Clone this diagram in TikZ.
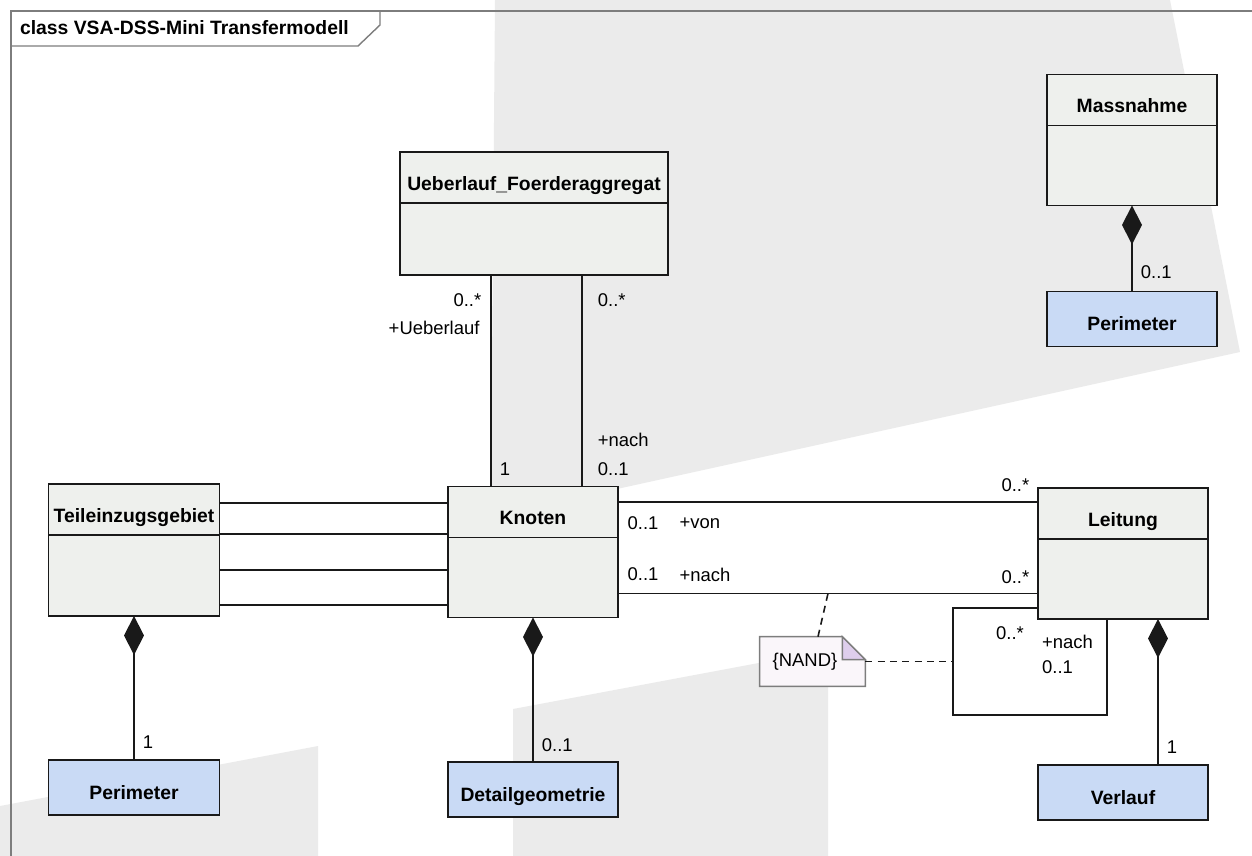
\documentclass[tikz,border=0pt]{standalone}
\usepackage{fontspec}
\setmainfont{Liberation Sans}
\usetikzlibrary{positioning,arrows.meta,backgrounds}

\definecolor{clsfill}{RGB}{238,240,237}
\definecolor{typefill}{RGB}{201,218,245}
\definecolor{bgshade}{RGB}{235,235,235}
\definecolor{notefill}{RGB}{250,246,250}
\definecolor{notefold}{RGB}{222,206,236}
\definecolor{umlline}{RGB}{25,25,25}
\definecolor{framegray}{RGB}{125,125,125}

\tikzset{
  cls/.style={draw=umlline, fill=clsfill, line width=1.1pt, outer sep=0pt, inner xsep=1pt, inner ysep=0pt,
    minimum width=3.4cm, text height=0.76cm, text depth=0.26cm, font=\fontsize{11}{13}\selectfont\bfseries},
  clsbody/.style={draw=umlline, fill=clsfill, line width=1.1pt, outer sep=0pt, minimum width=3.4cm, minimum height=1.6cm},
  dtype/.style={cls, fill=typefill, text height=0.78cm, text depth=0.32cm},
  lbl/.style={inner sep=1pt, font=\fontsize{10.5}{12}\selectfont},
  assoc/.style={draw=umlline, line width=1.1pt},
  comp/.style={assoc, arrows={{Diamond[length=0.78cm,width=0.4cm]}-}},
  notebox/.style={minimum width=2.1cm, minimum height=0.98cm, inner sep=0pt, font=\fontsize{10.5}{12}\selectfont},
  nandline/.style={draw=umlline, line width=0.9pt, dash pattern=on 4pt off 3pt},
  frame/.style={draw=framegray, line width=0.8pt}
}

\begin{document}
\begin{tikzpicture}[x=0.02cm, y=-0.02cm]
    \useasboundingbox (0,0) rectangle (1252,856);
    \begin{scope}[on background layer]
        \fill[bgshade] (495,0) -- (1170,0) -- (1240,352) -- (617,489) -- (491,489) -- cycle;
        \fill[bgshade] (0,806) -- (318,746) -- (318,856) -- (0,856) -- cycle;
        \fill[bgshade] (513,709) -- (828,650) -- (828,856) -- (513,856) -- cycle;
    \end{scope}

    \draw[frame] (1252,11) -- (11,11) -- (11,856);
    \draw[frame] (11,46) -- (358,46) -- (380,25) -- (380,11);
    \node[anchor=west, inner sep=1pt, font=\fontsize{11}{13}\selectfont\bfseries] (title) at (18,28) {class VSA-DSS-Mini Transfermodell};

    \node[cls, minimum width=5.36cm] (ueb) at (534,177.5) {Ueberlauf\_Foerderaggregat};
    \node[clsbody, minimum width=5.36cm, minimum height=1.44cm, below=0pt of ueb] (ueb-b) {};
    \node[cls] (knoten) at (533,512) {Knoten};
    \node[clsbody, below=0pt of knoten] (knoten-b) {};
    \node[cls, minimum width=3.42cm] (tez) at (134,509.5) {Teileinzugsgebiet};
    \node[clsbody, minimum width=3.42cm, minimum height=1.62cm, below=0pt of tez] (tez-b) {};
    \node[cls] (leitung) at (1123,513.5) {Leitung};
    \node[clsbody, below=0pt of leitung] (leitung-b) {};
    \node[cls] (massn) at (1132,100) {Massnahme};
    \node[clsbody, below=0pt of massn] (massn-b) {};

    \node[dtype, minimum width=3.42cm] (perim-t) at (134,787.5) {Perimeter};
    \node[dtype] (detail) at (533,789.5) {Detailgeometrie};
    \node[dtype] (verlauf) at (1123,792.5) {Verlauf};
    \node[dtype] (perim-m) at (1132,319) {Perimeter};

    \draw[assoc] ([xshift=-0.86cm]ueb-b.south) -- ([xshift=-0.86cm]ueb-b.south |- knoten.north)
        node[lbl, pos=.118, left=4pt] (m-ueb1) {0..*}
        node[lbl, pos=.25, left=5pt] (r-ueb) {+Ueberlauf}
        node[lbl, pos=.92, right=3.5pt] (m-ueb2) {1};
    \draw[assoc] ([xshift=0.96cm]ueb-b.south) -- ([xshift=0.96cm]ueb-b.south |- knoten.north)
        node[lbl, pos=.118, right=7.5pt] (m-nach1) {0..*}
        node[lbl, pos=.78, right=7.5pt] (r-nach1) {+nach}
        node[lbl, pos=.92, right=7.5pt] (m-nach2) {0..1};

    \foreach \src/\dy in {tez/0.13, tez/-0.49, tez-b/0.11, tez-b/-0.59}
        \draw[assoc] ([yshift=\dy cm]\src.east) -- ([yshift=\dy cm]\src.east -| knoten.west);

    \draw[assoc] ([yshift=0.2cm]knoten.east) -- ([yshift=0.2cm]knoten.east -| leitung.west)
        node[lbl, pos=0, anchor=west, shift={(7,21)}] (m-von1) {0..1}
        node[lbl, pos=0, anchor=west, shift={(59,21)}] (r-von) {+von}
        node[lbl, pos=1, anchor=east, shift={(-6,-17)}] (m-von2) {0..*};
    \draw[assoc] ([yshift=-0.32cm]knoten-b.east) -- ([yshift=-0.32cm]knoten-b.east -| leitung-b.west)
        coordinate[pos=.5] (nand-a)
        node[lbl, pos=0, anchor=west, shift={(7,-19)}] (m-kl1) {0..1}
        node[lbl, pos=0, anchor=west, shift={(59,-19)}] (r-kl) {+nach}
        node[lbl, pos=1, anchor=east, shift={(-6,-16)}] (m-kl2) {0..*};

    \coordinate (loop) at (953,715);
    \draw[assoc] ([yshift=-0.58cm]leitung-b.west) -| (loop) -| ([xshift=-0.32cm]leitung-b.south);
    \node[lbl, anchor=east] (m-self1) at ([shift={(-12,14)}]leitung-b.south west) {0..*};
    \node[lbl, anchor=west] (r-self) at ([shift={(2,23)}]leitung-b.south west) {+nach};
    \node[lbl, anchor=west] (m-self2) at ([shift={(2,48)}]leitung-b.south west) {0..1};

    \draw[comp] (tez-b.south) -- (perim-t.north) node[lbl, pos=.875, right=3.5pt] (m-tez) {1};
    \draw[comp] (knoten-b.south) -- (detail.north) node[lbl, pos=.88, right=3.5pt] (m-det) {0..1};
    \draw[comp] ([xshift=0.7cm]leitung-b.south) -- ([xshift=0.7cm]leitung-b.south |- verlauf.north)
        node[lbl, pos=.88, right=3.5pt] (m-verl) {1};
    \draw[comp] (massn-b.south) -- (perim-m.north) node[lbl, pos=.77, right=3.5pt] (m-mass) {0..1};

    \node[notebox] (nand) at (812.5,661.5) {\{NAND\}\hspace*{0.3cm}};
    \begin{scope}[on background layer]
        \filldraw[fill=notefill, draw=framegray, line width=0.8pt] (nand.north west) -- ([xshift=-0.46cm]nand.north east)
            -- ([yshift=-0.46cm]nand.north east) -- (nand.south east) -- (nand.south west) -- cycle;
        \filldraw[fill=notefold, draw=framegray, line width=0.8pt] ([xshift=-0.46cm]nand.north east)
            -- ([xshift=-0.46cm,yshift=-0.46cm]nand.north east) -- ([yshift=-0.46cm]nand.north east) -- cycle;
    \end{scope}
    \draw[nandline] ([xshift=0.11cm]nand.north) -- (nand-a);
    \draw[nandline] (nand.east) -- (nand.east -| loop);
\end{tikzpicture}
\end{document}
